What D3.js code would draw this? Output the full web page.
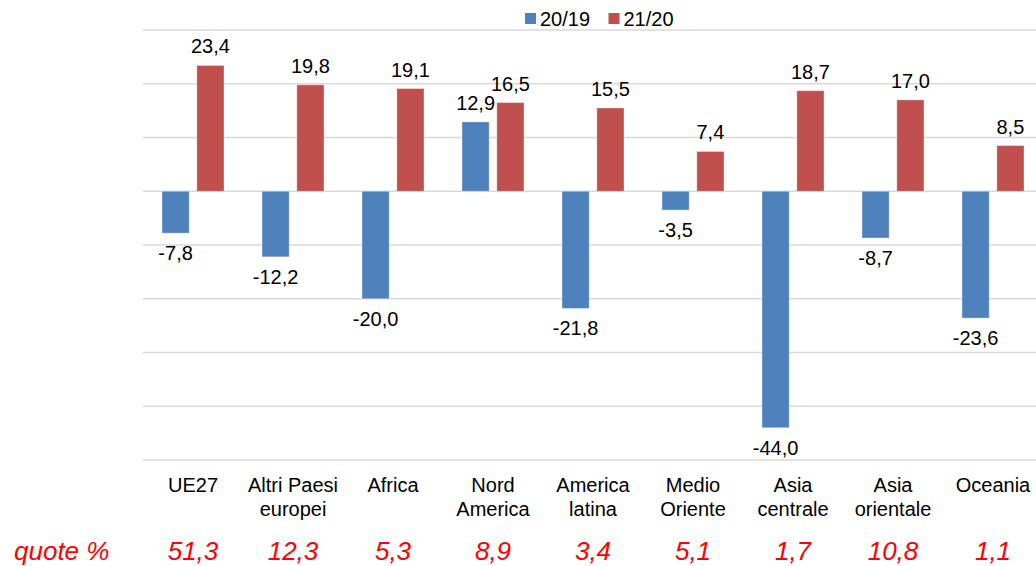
<!DOCTYPE html>
<html><head><meta charset="utf-8">
<script src="https://cdn.jsdelivr.net/npm/d3@7"></script>
<style>body{margin:0;background:#fff}svg{display:block}text{font-family:"Liberation Sans",Arial,sans-serif}</style>
</head><body><svg id="c" width="1036" height="566"></svg>
<script>
const categories = [["UE27"],["Altri Paesi","europei"],["Africa"],["Nord","America"],["America","latina"],["Medio","Oriente"],["Asia","centrale"],["Asia","orientale"],["Oceania"]];
const seriesNames = ["20/19","21/20"];
const s2019 = [-7.8,-12.2,-20.0,12.9,-21.8,-3.5,-44.0,-8.7,-23.6];
const s2120 = [23.4,19.8,19.1,16.5,15.5,7.4,18.7,17.0,8.5];
const quote = [51.3,12.3,5.3,8.9,3.4,5.1,1.7,10.8,1.1];
const yTicks = [-50,-40,-30,-20,-10,0,10,20,30];
const colors = ["#4F81BD","#C0504D"];

const fmt = v => v.toFixed(1).replace(".", ",");
const svg = d3.select("#c");
const keys = categories.map((c,i)=>i);
const x0 = d3.scaleBand().domain(keys).range([143,1043]).paddingInner(0.38).paddingOuter(0.19);
const x1 = d3.scaleBand().domain(seriesNames).range([0,x0.bandwidth()]).paddingInner(0.22);
const y = d3.scaleLinear().domain([-50,30]).range([460,30]);

svg.append("g").selectAll("line").data(yTicks).join("line")
  .attr("x1",143).attr("x2",1036).attr("y1",d=>y(d)).attr("y2",d=>y(d))
  .attr("stroke","#d9d9d9").attr("stroke-width",1.3);

const data = keys.map(i=>[{s:seriesNames[0],v:s2019[i],c:0},{s:seriesNames[1],v:s2120[i],c:1}]);
const g = svg.append("g").selectAll("g").data(data).join("g")
  .attr("transform",(d,i)=>`translate(${x0(i)},0)`);
g.selectAll("rect").data(d=>d).join("rect")
  .attr("x",d=>x1(d.s)).attr("width",x1.bandwidth())
  .attr("y",d=>y(Math.max(0,d.v))).attr("height",d=>Math.abs(y(d.v)-y(0)))
  .attr("fill",d=>colors[d.c]).attr("stroke","rgba(255,255,255,0.35)").attr("stroke-width",1);
g.selectAll("text").data(d=>d).join("text")
  .attr("x",d=>x1(d.s)+x1.bandwidth()/2)
  .attr("y",d=>d.v>=0 ? y(d.v)-12 : y(d.v)+27)
  .attr("text-anchor","middle").attr("font-size",20).attr("fill","#000")
  .text(d=>fmt(d.v));

// category labels
const cl = svg.append("g").selectAll("text").data(categories).join("text")
  .attr("text-anchor","middle").attr("font-size",20).attr("fill","#000");
cl.each(function(d,i){
  const t=d3.select(this);
  d.forEach((line,j)=>t.append("tspan").attr("x",x0(i)+x0.bandwidth()/2).attr("y",492+j*23.5).text(line));
});

// quote row
svg.append("text").attr("x",14).attr("y",560).attr("font-size",26).attr("font-style","italic").attr("fill","#FF0000").text("quote %");
svg.append("g").selectAll("text").data(quote).join("text")
  .attr("x",(d,i)=>x0(i)+x0.bandwidth()/2).attr("y",560).attr("text-anchor","middle")
  .attr("font-size",26).attr("font-style","italic").attr("fill","#FF0000").text(d=>fmt(d));

// legend
const leg = svg.append("g").selectAll("g").data(seriesNames).join("g")
  .attr("transform",(d,i)=>`translate(${525+i*83.5},0)`);
leg.append("rect").attr("x",0).attr("y",13).attr("width",11).attr("height",11).attr("fill",(d,i)=>colors[i]);
leg.append("text").attr("x",15).attr("y",26).attr("font-size",20).attr("fill","#000").text(d=>d);
</script></body></html>
